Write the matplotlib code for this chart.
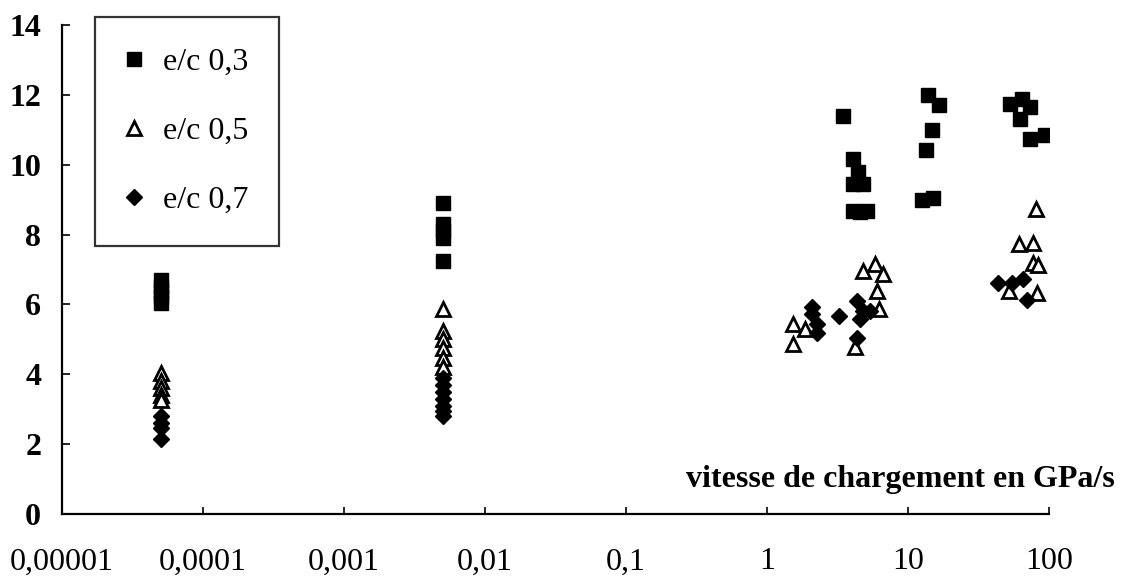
import matplotlib
matplotlib.use("Agg")
import matplotlib.pyplot as plt
from matplotlib.ticker import NullLocator

# e/c 0,3 (squares)
x_03 = [5e-5, 5e-5, 5e-5, 5e-5, 5e-5,
        5e-3, 5e-3, 5e-3, 5e-3, 5e-3,
        3.46, 4.07, 4.41, 4.07, 4.8, 4.07, 4.6, 5.1,
        13.9, 16.6, 14.8, 13.5, 12.6, 15.0,
        52.8, 64.4, 73.3, 62.2, 73.3, 93.7]
y_03 = [6.7, 6.5, 6.35, 6.2, 6.05,
        8.9, 8.3, 8.1, 7.9, 7.25,
        11.4, 10.15, 9.8, 9.45, 9.45, 8.68, 8.66, 8.68,
        12.0, 11.72, 10.98, 10.42, 8.98, 9.04,
        11.74, 11.88, 11.66, 11.32, 10.74, 10.86]

# e/c 0,5 (open triangles)
x_05 = [5e-5, 5e-5, 5e-5, 5e-5, 5e-5,
        5e-3, 5e-3, 5e-3, 5e-3, 5e-3, 5e-3,
        1.53, 1.86, 1.53, 4.2, 4.79, 5.83, 6.65, 6.03, 6.23,
        81, 61, 77, 77, 83.6, 52, 82]
y_05 = [4.05, 3.8, 3.6, 3.4, 3.25,
        5.88, 5.24, 5.02, 4.74, 4.48, 4.2,
        5.45, 5.3, 4.88, 4.78, 6.95, 7.15, 6.88, 6.38, 5.88,
        8.72, 7.74, 7.76, 7.18, 7.14, 6.38, 6.32]

# e/c 0,7 (diamonds)
x_07 = [5e-5, 5e-5, 5e-5, 5e-5,
        5e-3, 5e-3, 5e-3, 5e-3, 5e-3, 5e-3, 5e-3,
        2.08, 2.1, 2.26, 2.26, 3.24, 4.35, 4.79, 4.56, 5.37, 4.35,
        43.5, 54.7, 65.5, 69.9]
y_07 = [2.8, 2.6, 2.45, 2.15,
        3.9, 3.7, 3.5, 3.3, 3.1, 2.95, 2.8,
        5.92, 5.74, 5.45, 5.17, 5.68, 6.1, 5.82, 5.58, 5.82, 5.05,
        6.6, 6.62, 6.72, 6.12]

x_ticks = [1e-5, 1e-4, 1e-3, 1e-2, 1e-1, 1, 10, 100]
x_tick_labels = ["0,00001", "0,0001", "0,001", "0,01", "0,1", "1", "10", "100"]
y_ticks = [0, 2, 4, 6, 8, 10, 12, 14]

plt.rcParams["font.family"] = ["Liberation Serif", "DejaVu Serif"]

fig = plt.figure(figsize=(11.25, 5.77), dpi=100)
ax = fig.add_axes([62 / 1125, 63 / 577, 987 / 1125, 489 / 577])

ax.plot(x_03, y_03, ls="none", marker="s", ms=9.5, color="black",
        label="e/c 0,3")
ax.plot(x_05, y_05, ls="none", marker="^", ms=10, mfc="white",
        mec="black", mew=2.0, label="e/c 0,5")
ax.plot(x_07, y_07, ls="none", marker="D", ms=8.3, color="black",
        label="e/c 0,7")

ax.set_xscale("log")
ax.set_xlim(1e-5, 100)
ax.set_ylim(0, 14)
ax.set_xticks(x_ticks)
ax.set_xticklabels(x_tick_labels)
ax.xaxis.set_minor_locator(NullLocator())
ax.set_yticks(y_ticks)

for side in ["top", "right"]:
    ax.spines[side].set_visible(False)
for side in ["left", "bottom"]:
    ax.spines[side].set_linewidth(1.6)

ax.tick_params(axis="x", direction="in", length=5, width=1.2, pad=24,
               labelsize=23)
ax.tick_params(axis="y", direction="in", length=6, width=1.2, pad=15,
               labelsize=23)
for lbl in ax.get_yticklabels():
    lbl.set_fontweight("bold")

fig.text(1115 / 1125, (577 - 487) / 577, "vitesse de chargement en GPa/s",
         ha="right", va="baseline", fontsize=23, fontweight="bold")

leg = ax.legend(loc="upper left", bbox_to_anchor=(95 / 1125, 1 - 17 / 577),
                bbox_transform=fig.transFigure, fontsize=23, frameon=True,
                fancybox=False, borderpad=0.95, labelspacing=1.25,
                handlelength=0.56, handletextpad=0.62, borderaxespad=0,
                numpoints=1)
leg.get_frame().set_edgecolor("black")
leg.get_frame().set_linewidth(1.6)

fig.savefig("out.png", dpi=100)
